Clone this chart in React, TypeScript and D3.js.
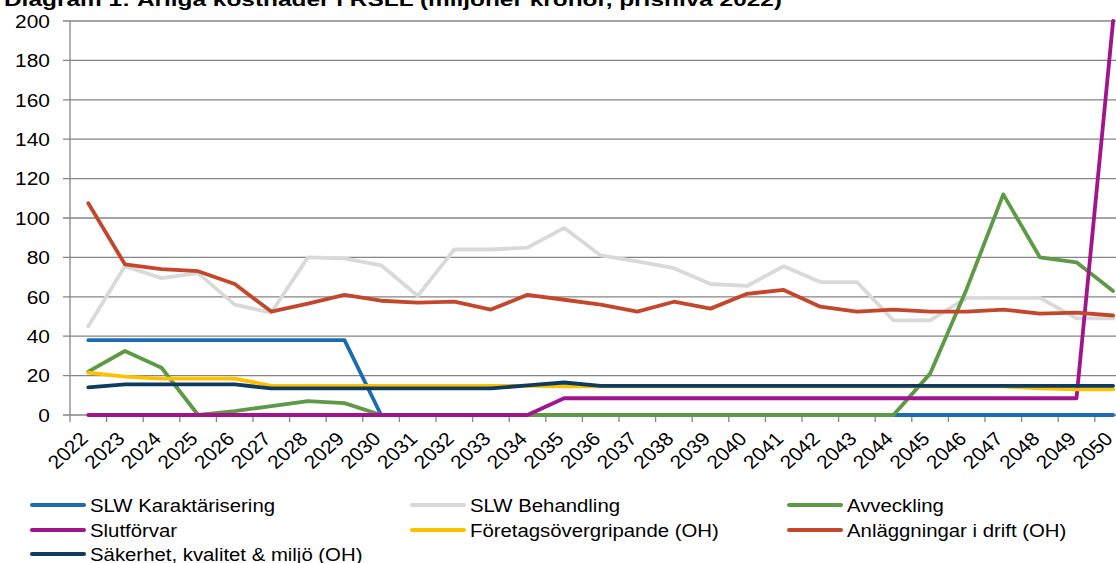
import React, { useEffect, useRef } from 'react';
import * as d3 from 'd3';

const years = [
  '2022', '2023', '2024', '2025', '2026', '2027', '2028', '2029', '2030', '2031',
  '2032', '2033', '2034', '2035', '2036', '2037', '2038', '2039', '2040', '2041',
  '2042', '2043', '2044', '2045', '2046', '2047', '2048', '2049', '2050',
];
const yTicks = [0, 20, 40, 60, 80, 100, 120, 140, 160, 180, 200];

const karakterisering = [38, 38, 38, 38, 38, 38, 38, 38, 0, 0, 0, 0, 0, 0, 0, 0, 0, 0, 0, 0, 0, 0, 0, 0, 0, 0, 0, 0, 0];
const behandling = [45, 75.5, 69.5, 72, 56, 52, 80, 79.5, 76, 60.5, 84, 84, 85, 95, 81, 78, 74.5, 66.5, 65.5, 75.5, 67.5, 67.5, 48, 48, 59.5, 59.5, 59.5, 49, 49];
const avveckling = [22, 32.5, 24, 0, 2, 4.5, 7, 6, 0, 0, 0, 0, 0, 0, 0, 0, 0, 0, 0, 0, 0, 0, 0, 21, 64, 112, 80, 77.5, 63];
const slutforvar = [0, 0, 0, 0, 0, 0, 0, 0, 0, 0, 0, 0, 0, 8.5, 8.5, 8.5, 8.5, 8.5, 8.5, 8.5, 8.5, 8.5, 8.5, 8.5, 8.5, 8.5, 8.5, 8.5, 200];
const foretag = [21.5, 19.5, 18.5, 18.5, 18.5, 14.8, 14.8, 14.8, 14.8, 14.8, 14.8, 14.8, 14.8, 14.5, 14.5, 14.5, 14.5, 14.5, 14.5, 14.5, 14.5, 14.5, 14.5, 14.5, 14.5, 14.5, 13.5, 13, 13];
const anlaggningar = [107.5, 76.5, 74, 73, 66.5, 52.5, 56.5, 61, 58, 57, 57.5, 53.5, 61, 58.5, 56, 52.5, 57.5, 54, 61.5, 63.5, 55, 52.5, 53.5, 52.5, 52.5, 53.5, 51.5, 52, 50.5];
const sakerhet = [14, 15.5, 15.5, 15.5, 15.5, 13.5, 13.5, 13.5, 13.5, 13.5, 13.5, 13.5, 15, 16.5, 14.8, 14.8, 14.8, 14.8, 14.8, 14.8, 14.8, 14.8, 14.8, 14.8, 14.8, 14.8, 14.8, 14.8, 14.8];

const series = [
  { name: 'SLW Karaktärisering', color: '#1b6cb2', values: karakterisering },
  { name: 'SLW Behandling', color: '#d9d9d9', values: behandling },
  { name: 'Avveckling', color: '#5e9a45', values: avveckling },
  { name: 'Slutförvar', color: '#a2148e', values: slutforvar },
  { name: 'Företagsövergripande (OH)', color: '#ffc000', values: foretag },
  { name: 'Anläggningar i drift (OH)', color: '#c5472b', values: anlaggningar },
  { name: 'Säkerhet, kvalitet & miljö (OH)', color: '#0d3b62', values: sakerhet },
];

const W = 1116;
const H = 563;
const FONT = '"Liberation Sans", Arial, sans-serif';
const SX = 1.1; // text looks slightly stretched horizontally

const App = () => {
  const ref = useRef<SVGSVGElement>(null);

  useEffect(() => {
    const svg = d3.select(ref.current);
    svg.selectAll('*').remove();

    const left = 70;
    const step = 36.6;
    const x = d3.scaleBand().domain(years).range([left, left + step * years.length]);
    const y = d3.scaleLinear().domain([0, 200]).range([415, 21]);
    const cx = (d: string) => (x(d) as number) + x.bandwidth() / 2;

    // title (cut off at the top)
    svg.append('text')
      .attr('x', 4)
      .attr('y', 5.5)
      .attr('font-family', FONT)
      .attr('font-weight', 'bold')
      .attr('font-size', 19)
      .attr('textLength', 778)
      .attr('lengthAdjust', 'spacingAndGlyphs')
      .text('Diagram 1: Årliga kostnader i RSLL (miljoner kronor, prisnivå 2022)');

    // gridlines + y ticks
    svg.append('g')
      .selectAll('line')
      .data(yTicks)
      .enter().append('line')
      .attr('x1', 63)
      .attr('x2', W + 20)
      .attr('y1', d => y(d))
      .attr('y2', d => y(d))
      .attr('stroke', '#858585')
      .attr('stroke-width', 1.3);

    svg.append('g')
      .selectAll('text')
      .data(yTicks)
      .enter().append('text')
      .attr('transform', d => `translate(50,${y(d)}) scale(${SX},1)`)
      .attr('text-anchor', 'end')
      .attr('dy', '0.36em')
      .attr('font-family', FONT)
      .attr('font-size', 19)
      .attr('fill', '#000')
      .text(d => d);

    // y axis line
    svg.append('line')
      .attr('x1', left).attr('x2', left)
      .attr('y1', y(200)).attr('y2', y(0))
      .attr('stroke', '#858585')
      .attr('stroke-width', 1.3);

    // x ticks at category boundaries
    svg.append('g')
      .selectAll('line')
      .data(d3.range(years.length + 1))
      .enter().append('line')
      .attr('x1', i => left + step * i)
      .attr('x2', i => left + step * i)
      .attr('y1', y(0))
      .attr('y2', y(0) + 7)
      .attr('stroke', '#858585')
      .attr('stroke-width', 1.3);

    svg.append('g')
      .selectAll('text')
      .data(years)
      .enter().append('text')
      .attr('transform', d => `translate(${cx(d) + 1},440) scale(${SX},1) rotate(-45)`)
      .attr('text-anchor', 'end')
      .attr('font-family', FONT)
      .attr('font-size', 19)
      .text(d => d);

    // lines
    const line = d3.line<number>()
      .x((_, i) => cx(years[i]))
      .y(v => y(v));

    svg.append('g')
      .selectAll('path')
      .data(series)
      .enter().append('path')
      .attr('d', d => line(d.values))
      .attr('fill', 'none')
      .attr('stroke', d => d.color)
      .attr('stroke-width', 3.8)
      .attr('stroke-linejoin', 'round')
      .attr('stroke-linecap', 'round');

    // legend
    const colX = [32, 412, 789];
    const rowY = [505, 530, 554];
    const leg = svg.append('g')
      .selectAll('g')
      .data(series)
      .enter().append('g')
      .attr('transform', (d, i) => `translate(${colX[i % 3]},${rowY[Math.floor(i / 3)]})`);

    leg.append('line')
      .attr('x1', 0).attr('x2', 52)
      .attr('y1', 0).attr('y2', 0)
      .attr('stroke', d => d.color)
      .attr('stroke-width', 4)
      .attr('stroke-linecap', 'round');

    leg.append('text')
      .attr('transform', `translate(58,0) scale(${SX},1)`)
      .attr('dy', '0.36em')
      .attr('font-family', FONT)
      .attr('font-size', 18.5)
      .text(d => d.name);
  }, []);

  return (
    <div style={{ position: 'fixed', left: 0, top: 0, width: W, height: H, background: '#fff' }}>
      <svg ref={ref} width={W} height={H} style={{ display: 'block' }}></svg>
    </div>
  );
};

export default App;
